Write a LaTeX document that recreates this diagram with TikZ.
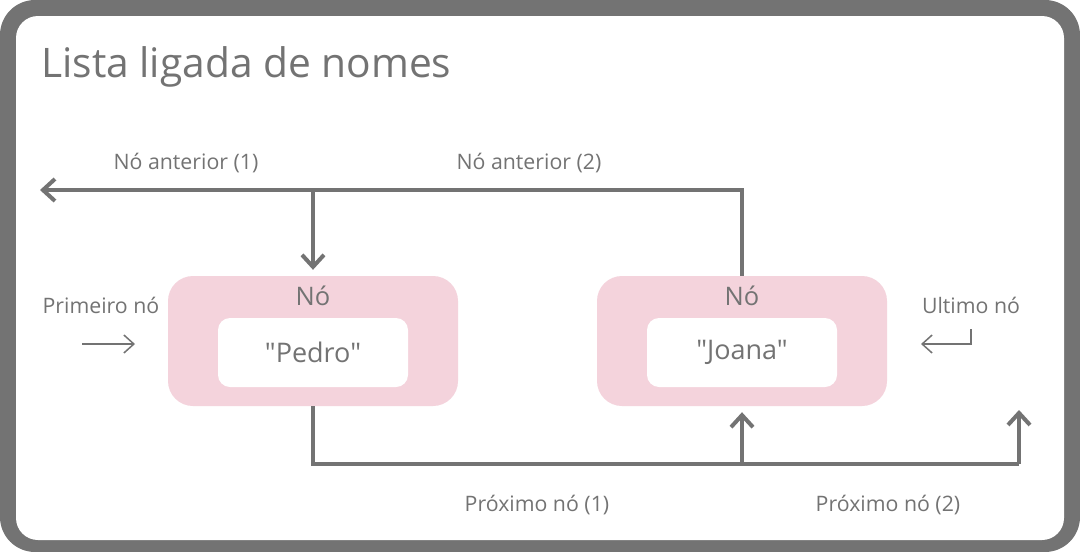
\documentclass[tikz,border=0pt]{standalone}
\usepackage{fontspec}
\setmainfont{Open Sans}[Ligatures=TeXOff]
\usetikzlibrary{arrows.meta, positioning}
\definecolor{cinza}{HTML}{737373}
\definecolor{rosa}{HTML}{F4D3DC}
\tikzset{
	conn/.style={draw=cinza, line width=4pt},
	seta/.style={conn, -{Straight Barb[length=12pt, width=22pt]}},
	setafina/.style={draw=cinza, line width=1.5pt, -{Straight Barb[length=10pt, width=18pt]}},
	rotulo/.style={text=cinza, font=\fontsize{21.3}{25}\selectfont, inner sep=0pt},
	caixa/.style={fill=rosa, rounded corners=25pt, minimum width=290pt, minimum height=130pt, inner sep=0pt},
	valor/.style={fill=white, rounded corners=12pt, minimum width=190pt, minimum height=69pt, inner sep=0pt,
		text=cinza, font=\fontsize{27}{32}\selectfont},
	tituloNo/.style={text=cinza, font=\fontsize{25.5}{30}\selectfont, inner sep=0pt},
}

\begin{document}
\begin{tikzpicture}[x=1pt, y=-1pt]
	% moldura
	\fill [cinza, rounded corners=35pt] (0,0) rectangle (1080,552);
	\fill [white, rounded corners=22pt] (16,16) rectangle (1064,540);
	\useasboundingbox (0,0) rectangle (1080,552);
	\node [anchor=base west, text=cinza, font=\fontsize{40.7}{48}\selectfont, inner sep=0pt] (titulo) at (41,77) {Lista ligada de nomes};

	% nos
	\node [caixa] (pedro) at (313,341) {};
	\node [caixa] (joana) at (742,341) {};
	\node [valor] (pedroval) at (313,352.5) {"Pedro"};
	\node [valor] (joanaval) at (742,352.5) {"Joana"};
	\node [tituloNo] (pedrono) at ([yshift=-20pt]pedro.north) {Nó};
	\node [tituloNo] (joanano) at ([yshift=-20pt]joana.north) {Nó};

	% rotulos
	\node [rotulo] (ant1) at (186,163) {Nó anterior (1)};
	\node [rotulo] (ant2) at (529,163) {Nó anterior (2)};
	\node [rotulo] (prim) at (101,305) {Primeiro nó};
	\node [rotulo] (ult) at (971,305) {Ultimo nó};
	\node [rotulo] (prox1) at (537,505) {Próximo nó (1)};
	\node [rotulo] (prox2) at (888,505) {Próximo nó (2)};

	% anterior
	\coordinate (antfim) at (40,190);
	\draw [seta] (joana.north) |- (antfim);
	\draw [seta, shorten >=6pt] (pedro.north |- antfim) -- (pedro.north);

	% proximo
	\coordinate (proxfim) at (1019,464);
	\coordinate (proxtopo) at (1019,410);
	\draw [conn] (pedro.south) |- (proxfim);
	\draw [seta, shorten >=6pt] (joana.south |- proxfim) -- (joana.south);
	\draw [seta] (proxfim) -- (proxtopo);

	% primeiro e ultimo
	\coordinate (primini) at (82,344);
	\coordinate (primfim) at (135,344);
	\coordinate (ultini) at (971,329);
	\coordinate (ultfim) at (921,344);
	\draw [setafina] (primini) -- (primfim);
	\draw [setafina] (ultini) |- (ultfim);
\end{tikzpicture}
\end{document}
